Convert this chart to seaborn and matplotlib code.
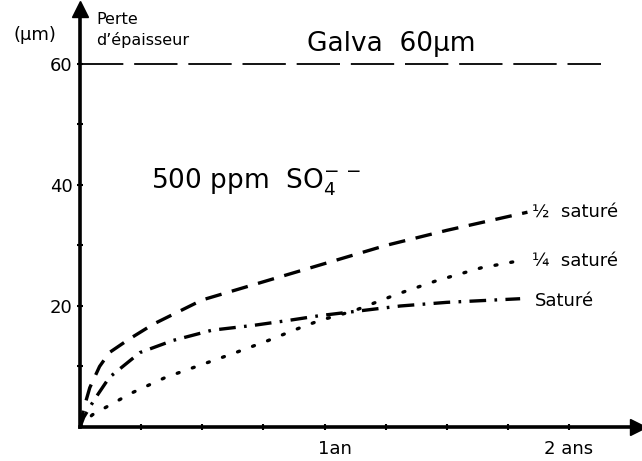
import matplotlib
matplotlib.use("Agg")
import matplotlib.pyplot as plt
import seaborn as sns
import numpy as np

# Data (x in years, y = thickness loss in µm)
t_demi = [0, 0.015, 0.04, 0.08, 0.12, 0.2, 0.3, 0.5, 0.75, 1.0, 1.25, 1.5, 1.83]
y_demi = [0, 3, 6.5, 10, 12.3, 14.5, 17, 21, 24, 27, 30, 32.5, 35.5]

t_quart = [0, 0.05, 0.21, 0.35, 0.49, 0.63, 0.77, 0.9, 0.98, 1.12, 1.3, 1.46, 1.64, 1.8]
y_quart = [0, 2, 5.6, 8.2, 10.2, 12.2, 14.3, 16.4, 17.6, 19.2, 22, 24.2, 26.3, 27.5]

t_sat = [0, 0.015, 0.06, 0.12, 0.245, 0.38, 0.54, 0.71, 0.85, 0.98, 1.31, 1.5, 1.8]
y_sat = [0, 1.6, 4.6, 8.2, 12.3, 14.3, 16, 16.8, 17.6, 18.4, 20, 20.6, 21.2]

galva_x = [0, 2.13]
galva_y = [60, 60]

series_labels = ["½  saturé", "¼  saturé", "Saturé"]
y_ticks = [10, 20, 30, 40, 50, 60]
y_ticklabels = ["", "20", "", "40", "", "60"]
x_ticks = [0.25, 0.5, 0.75, 1.0, 1.25, 1.5, 1.75, 2.0]

sns.set_style("white")
plt.rcParams['font.family'] = ['DejaVu Sans']
plt.rcParams['text.color'] = 'black'
plt.rcParams['xtick.color'] = 'black'
plt.rcParams['ytick.color'] = 'black'

fig = plt.figure(figsize=(6.42, 4.61), dpi=100)
ax = fig.add_axes([80 / 642, 34 / 461, 557.5 / 642, 417.5 / 461])
ax.set_xlim(0, 2.28)
ax.set_ylim(0, 69)

# curves
sns.lineplot(x=t_demi, y=y_demi, ax=ax, color="black", lw=2.4,
             linestyle=(0, (5, 3.2)))
sns.lineplot(x=t_quart, y=y_quart, ax=ax, color="black", lw=2.4,
             linestyle=(0, (0.6, 4.2)), dash_capstyle="round")
sns.lineplot(x=t_sat, y=y_sat, ax=ax, color="black", lw=2.4,
             linestyle=(0, (5, 2.5, 0.8, 2.5)))
ax.plot(galva_x, galva_y, color="black", lw=1.3, linestyle=(0, (24, 6)))

# axes like the hand drawing
for s in ["top", "right"]:
    ax.spines[s].set_visible(False)
for s in ["left", "bottom"]:
    ax.spines[s].set_linewidth(2.6)
    ax.spines[s].set_color("black")
ax.plot(1, 0, ">k", ms=11, transform=ax.get_yaxis_transform(), clip_on=False)
ax.plot(0, 1, "^k", ms=11, transform=ax.get_xaxis_transform(), clip_on=False)

ax.set_yticks(y_ticks)
ax.set_yticklabels(y_ticklabels, fontsize=13)
ax.set_xticks(x_ticks)
ax.set_xticklabels([])
ax.tick_params(axis="both", direction="inout", length=5, width=1.5, pad=3,
               bottom=True, left=True)

# texts
ax.text(0.975, -2.2, "1an", fontsize=13, ha="left", va="top")
ax.text(2.0, -2.2, "2 ans", fontsize=13, ha="center", va="top")
ax.text(-0.095, 64.8, "(µm)", fontsize=13, ha="right", va="center", clip_on=False)
ax.text(0.065, 67.4, "Perte", fontsize=11.5, ha="left", va="center", clip_on=False)
ax.text(0.065, 64.0, "d’épaisseur", fontsize=11.5, ha="left", va="center", clip_on=False)
ax.text(0.93, 63.3, "Galva  60µm", fontsize=19, ha="left", va="center")
ax.text(0.29, 40.5, r"500 ppm  SO$_4^{-\,-}$", fontsize=19, ha="left", va="center")

ax.text(1.85, 35.5, series_labels[0], fontsize=13, ha="left", va="center")
ax.text(1.85, 27.4, series_labels[1], fontsize=13, ha="left", va="center")
ax.text(1.86, 20.8, series_labels[2], fontsize=13, ha="left", va="center")

fig.savefig("out.png", dpi=100)
